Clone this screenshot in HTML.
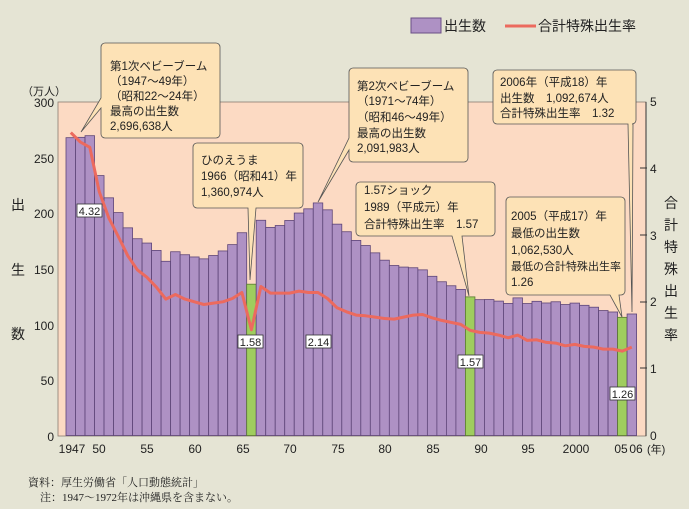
<!DOCTYPE html>
<html><head><meta charset="utf-8"><style>
body{margin:0;background:#e5e4d4;}
svg{display:block;font-family:"Liberation Sans","Noto Sans CJK JP",sans-serif;}
</style></head><body>
<svg id="s" width="689" height="509" xmlns="http://www.w3.org/2000/svg">
<rect width="689" height="509" fill="#e5e4d4"/>
<rect x="58" y="102" width="588" height="334" fill="#fcdac3" stroke="#8a7a70" stroke-width="0.8"/>
<g id="bars"></g>
<polyline id="tfr" fill="none" stroke="#ec6a5e" stroke-width="3" stroke-linejoin="round"/>
<g font-size="12" fill="#222" text-anchor="end">
<text x="54" y="107">300</text><text x="54" y="163">250</text><text x="54" y="218">200</text>
<text x="54" y="274">150</text><text x="54" y="330">100</text><text x="54" y="385">50</text><text x="54" y="441">0</text>
</g>
<text x="22" y="95" font-size="11" fill="#222">（万人）</text>
<g font-size="14" fill="#222" text-anchor="middle"><text x="18" y="210">出</text><text x="18" y="275">生</text><text x="18" y="339">数</text></g>
<g stroke="#333" stroke-width="1"><line x1="646" y1="102" x2="646" y2="436"/>
<line x1="640" y1="168" x2="647" y2="168"/><line x1="640" y1="235" x2="647" y2="235"/><line x1="640" y1="302" x2="647" y2="302"/><line x1="640" y1="368" x2="647" y2="368"/></g>
<g font-size="12" fill="#222"><text x="650" y="106">5</text><text x="650" y="173">4</text><text x="650" y="240">3</text><text x="650" y="306">2</text><text x="650" y="373">1</text><text x="650" y="440">0</text></g>
<g font-size="14" fill="#222" text-anchor="middle"><text x="671" y="208">合</text><text x="671" y="230">計</text><text x="671" y="252">特</text><text x="671" y="274">殊</text><text x="671" y="296">出</text><text x="671" y="318">生</text><text x="671" y="340">率</text></g>
<g font-size="12" fill="#222" text-anchor="middle">
<text x="72" y="453">1947</text><text x="99" y="453">50</text><text x="147" y="453">55</text><text x="195" y="453">60</text><text x="243" y="453">65</text><text x="290" y="453">70</text><text x="338" y="453">75</text><text x="385" y="453">80</text><text x="433" y="453">85</text><text x="481" y="453">90</text><text x="528" y="453">95</text><text x="576" y="453">2000</text><text x="621" y="453">05</text><text x="636" y="453">06</text>
</g>
<text x="647" y="453" font-size="11" fill="#222">(年)</text>
<rect x="411" y="18" width="30" height="15" fill="#ae91c4" stroke="#6a4f86"/>
<text x="444" y="31" font-size="14" fill="#222">出生数</text>
<line x1="505" y1="26" x2="536" y2="26" stroke="#ec6a5e" stroke-width="3"/>
<text x="538" y="31" font-size="14" fill="#222">合計特殊出生率</text>
<g font-size="11" fill="#222" text-anchor="middle">
<rect x="77" y="204" width="25" height="13" fill="#fff" stroke="#333" stroke-width="0.8"/><text x="89.5" y="215">4.32</text>
<rect x="238" y="335" width="25" height="13" fill="#fff" stroke="#333" stroke-width="0.8"/><text x="250.5" y="346">1.58</text>
<rect x="306" y="335" width="25" height="13" fill="#fff" stroke="#333" stroke-width="0.8"/><text x="318.5" y="346">2.14</text>
<rect x="458" y="355" width="25" height="13" fill="#fff" stroke="#333" stroke-width="0.8"/><text x="470.5" y="366">1.57</text>
<rect x="610" y="387" width="25" height="13" fill="#fff" stroke="#333" stroke-width="0.8"/><text x="622.5" y="398">1.26</text>
</g>
<g fill="#fde2b6" stroke="#555" stroke-width="0.8">
<path d="M105,43 H216 a4,4 0 0 1 4,4 V134 a4,4 0 0 1 -4,4 H105 a4,4 0 0 1 -4,-4 V108 L81,132 L101,98 V47 a4,4 0 0 1 4,-4Z"/>
<path d="M353,68 H464 a4,4 0 0 1 4,4 V158 a4,4 0 0 1 -4,4 H353 a4,4 0 0 1 -4,-4 V150 L318,202 L349,138 V72 a4,4 0 0 1 4,-4Z"/>
<path d="M197,143 H299 a4,4 0 0 1 4,4 V204 a4,4 0 0 1 -4,4 H256 L250,280 L248,208 H197 a4,4 0 0 1 -4,-4 V147 a4,4 0 0 1 4,-4Z"/>
<path d="M360,182 H491 a4,4 0 0 1 4,4 V232 a4,4 0 0 1 -4,4 H462 L469,296 L452,236 H360 a4,4 0 0 1 -4,-4 V186 a4,4 0 0 1 4,-4Z"/>
<path d="M510,197 H621 a4,4 0 0 1 4,4 V291 a4,4 0 0 1 -4,4 H619 L622,317 L610,295 H510 a4,4 0 0 1 -4,-4 V201 a4,4 0 0 1 4,-4Z"/>
<path d="M497,70 H632 a4,4 0 0 1 4,4 V120 a4,4 0 0 1 -4,4 H633 L632,312 L628,124 H497 a4,4 0 0 1 -4,-4 V74 a4,4 0 0 1 4,-4Z"/>
</g>
<g font-size="11.5" fill="#222">
<text x="110" y="70">第1次ベビーブーム</text><text x="110" y="85">（1947〜49年）</text><text x="110" y="100">（昭和22〜24年）</text><text x="110" y="115">最高の出生数</text><text x="110" y="130">2,696,638人</text>
<text x="357" y="90">第2次ベビーブーム</text><text x="357" y="105">（1971〜74年）</text><text x="357" y="121">（昭和46〜49年）</text><text x="357" y="137">最高の出生数</text><text x="357" y="152">2,091,983人</text>
<text x="201" y="164">ひのえうま</text><text x="201" y="180">1966（昭和41）年</text><text x="201" y="196">1,360,974人</text>
<text x="364" y="194">1.57ショック</text><text x="364" y="211">1989（平成元）年</text><text x="364" y="228">合計特殊出生率　1.57</text>
<text x="511" y="220">2005（平成17）年</text><text x="511" y="237">最低の出生数</text><text x="511" y="254">1,062,530人</text><text x="511" y="270" font-size="11">最低の合計特殊出生率</text><text x="511" y="286">1.26</text>
<text x="500" y="86">2006年（平成18）年</text><text x="500" y="102">出生数　1,092,674人</text><text x="500" y="117">合計特殊出生率　1.32</text>
</g>
<g font-size="11" fill="#222" font-family="'Liberation Serif','Noto Serif CJK SC',serif">
<text x="28" y="486">資料：厚生労働省「人口動態統計」</text><text x="40" y="501">注：1947〜1972年は沖縄県を含まない。</text>
</g>
</svg>
<script>
var B=[267.9,268.2,269.7,233.8,213.8,200.5,186.8,177.0,173.1,166.5,156.7,165.3,162.6,160.6,158.9,161.9,166.0,171.7,182.4,136.1,193.6,187.2,188.9,193.4,200.1,203.9,209.2,203.0,190.1,183.3,175.5,170.9,164.3,157.7,152.9,151.5,150.9,149.0,143.2,138.3,134.7,131.4,124.7,122.2,122.3,120.9,118.8,123.8,118.7,120.7,119.2,120.3,117.8,119.1,117.1,115.4,112.4,111.1,106.3,109.3];
var T=[4.54,4.40,4.32,3.65,3.26,2.98,2.69,2.48,2.37,2.22,2.04,2.11,2.04,2.00,1.96,1.98,2.00,2.05,2.14,1.58,2.23,2.13,2.13,2.13,2.16,2.14,2.14,2.05,1.91,1.85,1.80,1.79,1.77,1.75,1.74,1.77,1.80,1.81,1.76,1.72,1.69,1.66,1.57,1.54,1.53,1.50,1.46,1.50,1.42,1.43,1.39,1.38,1.34,1.36,1.33,1.32,1.29,1.29,1.26,1.32];
var g=document.getElementById('bars'),ns='http://www.w3.org/2000/svg',pts=[];
for(var i=0;i<60;i++){var x=66+i*9.51,h=B[i]*1.1117,y=435.5-h;var r=document.createElementNS(ns,'rect');
r.setAttribute('x',x);r.setAttribute('y',y);r.setAttribute('width',9.51);r.setAttribute('height',h);
var gr=(i==19||i==42||i==58);r.setAttribute('fill',gr?'#9fcd5e':'#ae91c4');r.setAttribute('stroke',gr?'#5a7a30':'#5e4578');r.setAttribute('stroke-width','0.8');g.appendChild(r);
pts.push((x+4.75).toFixed(1)+','+(435-T[i]*66.6).toFixed(1));}
document.getElementById('tfr').setAttribute('points',pts.join(' '));
</script>
</body></html>
